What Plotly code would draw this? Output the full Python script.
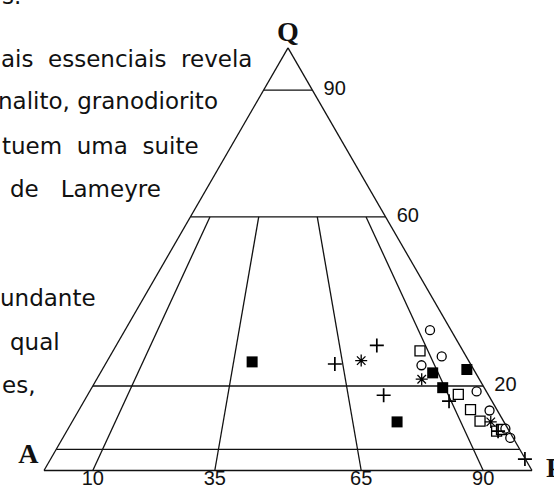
import plotly.graph_objects as go

# ---------------- data (percent) ----------------
# QAP field boundaries
q_levels = [90, 60, 20, 5]            # horizontal lines (Q %)
q_level_labels = ["90", "60", "20"]   # labels on the right edge
ap_ratios = [10, 35, 65, 90]          # 100*P/(A+P) division lines
ap_ratio_labels = ["10", "35", "65", "90"]
ratio_top_q = 60                      # ratio lines start at Q = 60

# samples: filled squares
fsq_Q = [25.7, 11.5, 23.9, 23.1, 19.6]
fsq_A = [44.5, 21.9, 1.4, 8.8, 8.5]
fsq_P = [29.8, 66.6, 74.7, 68.1, 71.9]
# open squares
osq_Q = [28.3, 18.0, 14.4, 11.7, 9.3, 9.7]
osq_A = [8.8, 6.1, 5.4, 4.8, 2.6, 1.4]
osq_P = [62.9, 75.9, 80.2, 83.5, 88.1, 88.9]
# open circles
cir_Q = [33.2, 27.0, 24.9, 18.7, 14.2, 9.9, 7.7]
cir_A = [4.3, 5.0, 10.2, 2.0, 1.6, 0.5, 0.6]
cir_P = [62.5, 68.0, 64.9, 79.3, 84.2, 89.6, 91.7]
# crosses
crs_Q = [25.2, 29.6, 17.8, 16.4, 9.3, 2.7]
crs_A = [27.8, 17.0, 21.5, 8.8, 2.3, 0.1]
crs_P = [47.0, 53.4, 60.7, 74.8, 88.4, 97.2]
# asterisks
ast_Q = [26.0, 21.6, 11.5]
ast_A = [22.0, 11.8, 2.7]
ast_P = [52.0, 66.6, 85.8]

# surrounding document text (cropped page)
doc_text = ["s.", "ais  essenciais  revela", "nalito, granodiorito",
            "tuem  uma  suite", "de   Lameyre", "undante", "qual", "es,"]

# ---------------- figure ----------------
W, H = 554, 491
fig = go.Figure()
LINE = dict(color="#111", width=1.3)

for q in q_levels:
    fig.add_trace(go.Scatterternary(a=[q, q], b=[100 - q, 0], c=[0, 100 - q],
                                    mode="lines", line=LINE, cliponaxis=False,
                                    hoverinfo="skip"))
for r in ap_ratios:
    rest = 100 - ratio_top_q
    fig.add_trace(go.Scatterternary(a=[ratio_top_q, 0],
                                    b=[rest * (100 - r) / 100, 100 - r],
                                    c=[rest * r / 100, r],
                                    mode="lines", line=LINE, cliponaxis=False,
                                    hoverinfo="skip"))

def pts(Q, A, P, symbol, size, fill, lw):
    fig.add_trace(go.Scatterternary(
        a=Q, b=A, c=P, mode="markers", cliponaxis=False,
        marker=dict(symbol=symbol, size=size, color=fill,
                    line=dict(color="black", width=lw))))

pts(osq_Q, osq_A, osq_P, "square", 10, "white", 1.3)
pts(cir_Q, cir_A, cir_P, "circle", 9, "white", 1.3)
pts(fsq_Q, fsq_A, fsq_P, "square", 11, "black", 0)
pts(crs_Q, crs_A, crs_P, "cross-thin", 10, "black", 1.7)
pts(ast_Q, ast_A, ast_P, "asterisk", 10, "black", 1.3)

# tick labels
tick_font = dict(family="Liberation Sans", size=20, color="#111")
fig.add_trace(go.Scatterternary(
    a=q_levels[:3], b=[0, 0, 0], c=[100 - q for q in q_levels[:3]],
    mode="text", text=["  " + t for t in q_level_labels],
    textposition="middle right", textfont=tick_font, cliponaxis=False))
fig.add_trace(go.Scatterternary(
    a=[0] * 4, b=[100 - r for r in ap_ratios], c=ap_ratios,
    mode="text", text=ap_ratio_labels, textposition="bottom center",
    textfont=tick_font, cliponaxis=False))
# vertex labels
vfont = dict(family="Liberation Serif", size=28, color="#111", weight="bold")
fig.add_trace(go.Scatterternary(
    a=[100, 0, 0], b=[0, 100, 0], c=[0, 0, 100], mode="text",
    text=["Q", "A ", "  P"], textposition=["top center", "top left", "middle right"],
    textfont=vfont, cliponaxis=False))

hidden = dict(showgrid=False, showticklabels=False, ticks="", title="",
              showline=True, linecolor="#111", linewidth=1.3)
x0, x1, ybase, side = 44, 532, 470.5, 488
fig.update_layout(
    width=W, height=H, margin=dict(l=0, r=0, t=0, b=0),
    paper_bgcolor="white", showlegend=False,
    ternary=dict(sum=100, bgcolor="white",
                 domain=dict(x=[x0 / W, x1 / W],
                             y=[(H - ybase) / H, (H - ybase + side * 0.8660254) / H]),
                 aaxis=hidden, baxis=hidden, caxis=hidden),
)

# document text as annotations
txt_x = [0, -1, -4, 0, 8, -2, 8, 0]
txt_base = [5, 68, 110, 155, 198, 307, 351, 394]
for t, x, yb in zip(doc_text, txt_x, txt_base):
    fig.add_annotation(text=t, xref="paper", yref="paper", x=x / W,
                       y=1 - (yb + 6) / H, xanchor="left", yanchor="bottom",
                       showarrow=False,
                       font=dict(family="DejaVu Sans", size=23, color="#111"))

fig.write_html("out.html", config={"displayModeBar": False},
               post_script="document.body.style.margin='0';document.body.style.padding='0';")
